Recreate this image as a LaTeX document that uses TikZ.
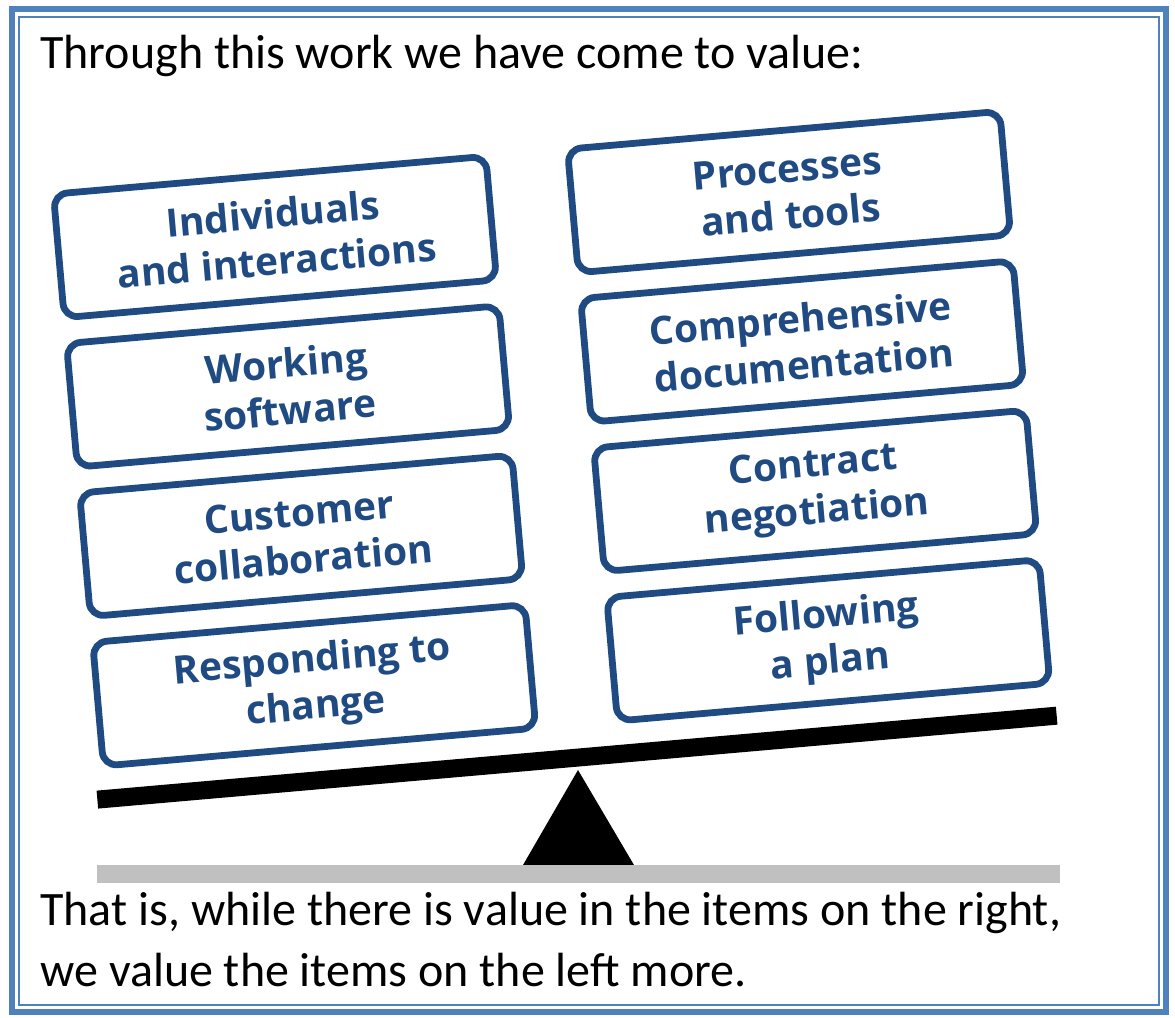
\documentclass[tikz,border=0pt]{standalone}
\usepackage{fontspec}
\setmainfont{Carlito}
\newfontfamily\boxfont{Open Sans}
\usepackage{xcolor}
\definecolor{frameblue}{RGB}{79,129,189}
\definecolor{boxblue}{RGB}{31,74,130}
\definecolor{groundgray}{RGB}{192,192,192}

\begin{document}
\begin{tikzpicture}[x=0.5pt,y=-0.5pt]
\tikzset{valuebox/.style=
            {draw=boxblue,text=boxblue,line width=3.4pt,rounded corners=7pt,
             minimum width=217pt,minimum height=62pt,align=center,
             font=\boxfont\bfseries\fontsize{19.5}{23.5}\selectfont},
         caption/.style=
            {anchor=base west,inner sep=0pt,font=\fontsize{24}{30}\selectfont}}
\useasboundingbox (0,0) rectangle (1175,1018);
% double frame
\draw[frameblue,line width=3pt] (12,9) rectangle (1166,1012);
\draw[frameblue,line width=0.7pt] (19,17) rectangle (1159,1005);
\node[caption] (intro) at (40,68) {Through this work we have come to value:};
% the tilted scale with its two stacks
\begin{scope}[shift={(275,237)},rotate=5,transform shape]
    \node[valuebox] (indiv)     at (0,0)     {Individuals\\and interactions};
    \node[valuebox] (working)   at (0,150)   {Working\\software};
    \node[valuebox] (customer)  at (0,300)   {Customer\\collaboration};
    \node[valuebox] (respond)   at (0,450)   {Responding to\\change};
    \node[valuebox] (process)   at (516,0)   {Processes\\and tools};
    \node[valuebox] (docs)      at (516,150) {Comprehensive\\documentation};
    \node[valuebox] (contract)  at (516,300) {Contract\\negotiation};
    \node[valuebox] (plan)      at (516,450) {Following\\a plan};
    \coordinate (beamL) at (-226,545);
    \coordinate (beamR) at (737,545);
    \draw[line width=9pt] (beamL) -- (beamR);
\end{scope}
% fulcrum and ground
\coordinate (apex) at (578,770);
\fill (apex) -- (523,865) -- (634,865) -- cycle;
\coordinate (groundL) at (97,874);
\coordinate (groundR) at (1060,874);
\draw[groundgray,line width=9pt] (groundL) -- (groundR);
\node[caption] (outro1) at (40,925) {That is, while there is value in the items on the right,};
\node[caption] (outro2) at (40,986) {we value the items on the left more.};
\end{tikzpicture}
\end{document}
